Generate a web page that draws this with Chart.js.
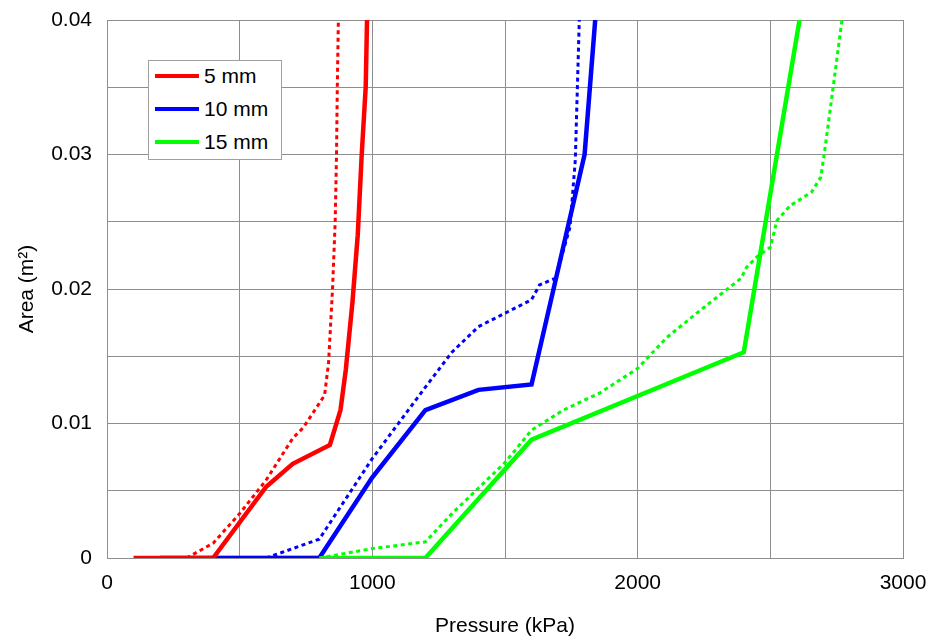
<!DOCTYPE html>
<html>
<head>
<meta charset="utf-8">
<script src="https://cdn.jsdelivr.net/npm/chart.js@4.4.1/dist/chart.umd.min.js"></script>
<style>
  html,body{margin:0;padding:0;background:#fff;}
  #wrap{position:relative;width:927px;height:640px;}
  #legend{position:absolute;left:148px;top:60px;width:134px;height:100px;border:1px solid #a0a0a0;background:#fff;
    font-family:"Liberation Sans",Arial,sans-serif;font-size:21px;color:#000;box-sizing:border-box;}
  .item{position:absolute;left:0;height:24px;}
  .item span.sw{position:absolute;left:6px;top:10px;width:44px;height:4px;}
  .item span.tx{position:absolute;left:55px;top:0;white-space:nowrap;line-height:24px;}
</style>
</head>
<body>
<div id="wrap">
  <canvas id="chart" width="927" height="640"></canvas>
  <div id="legend"></div>
</div>
<script>
/* values: pressure (kPa) and area (m2) */
const p5 = [100, 200, 300, 400, 600, 700, 840, 880, 900, 925, 945, 960, 975, 980];
const a5 = [0, 0, 0, 0, 0.0053, 0.0070, 0.0084, 0.0110, 0.0140, 0.0190, 0.0240, 0.0300, 0.0350, 0.0400];
const p5d = [300, 400, 500, 600, 700, 740, 800, 820, 835, 850, 860, 865, 868, 872];
const a5d = [0, 0.0011, 0.0033, 0.0058, 0.0089, 0.0097, 0.0115, 0.0121, 0.0145, 0.0200, 0.0250, 0.0300, 0.0350, 0.0400];

const p10 = [200, 400, 600, 800, 1000, 1200, 1400, 1600, 1800, 1840];
const a10 = [0, 0, 0, 0, 0.0060, 0.0110, 0.0125, 0.0129, 0.0300, 0.0400];
const p10d = [600, 800, 1000, 1200, 1300, 1400, 1500, 1600, 1630, 1690, 1745, 1765, 1775, 1780];
const a10d = [0, 0.0014, 0.0074, 0.0127, 0.0153, 0.0172, 0.0182, 0.0192, 0.0203, 0.0208, 0.0246, 0.0296, 0.0365, 0.0400];

const p15 = [400, 600, 800, 1000, 1200, 1600, 2400, 2610];
const a15 = [0, 0, 0, 0, 0, 0.0088, 0.0153, 0.0400];
const p15d = [800, 1000, 1200, 1300, 1400, 1500, 1600, 1720, 1860, 2000, 2110, 2235, 2390, 2410, 2450, 2500, 2525, 2575, 2655, 2690, 2705, 2730, 2750, 2770];
const a15d = [0, 0.0007, 0.0012, 0.0033, 0.0052, 0.0071, 0.0095, 0.0110, 0.0123, 0.0141, 0.0164, 0.0184, 0.0208, 0.0216, 0.0224, 0.0231, 0.0251, 0.0262, 0.0272, 0.0283, 0.0303, 0.0340, 0.0370, 0.0400];

const seriesNames = ['5 mm', '10 mm', '15 mm'];
const colors = ['#ff0000', '#0000ff', '#00ff00'];

const xTicks = [0, 1000, 2000, 3000];
const yTicks = [0, 0.01, 0.02, 0.03, 0.04];

const font = '"Liberation Sans", Arial, sans-serif';
const gridColor = '#8e8e8e';

function pts(xs, ys){
  return xs.map((x, i) => ({x: x, y: ys[i]}));
}

function solid(label, xs, ys, color){
  return {label: label, data: pts(xs, ys), borderColor: color, backgroundColor: color,
    borderWidth: 4.5, pointRadius: 0, tension: 0, showLegend: true};
}
function dotted(xs, ys, color){
  return {label: '', data: pts(xs, ys), borderColor: color, backgroundColor: color,
    borderWidth: 3, borderDash: [4, 3.5], pointRadius: 0, tension: 0, showLegend: false};
}

/* draw order: dotted under solid, green on top like the reference */
const datasets = [
  dotted(p5d, a5d, colors[0]),
  dotted(p10d, a10d, colors[1]),
  dotted(p15d, a15d, colors[2]),
  solid(seriesNames[0], p5, a5, colors[0]),
  solid(seriesNames[1], p10, a10, colors[1]),
  solid(seriesNames[2], p15, a15, colors[2])
];

const chart = new Chart(document.getElementById('chart').getContext('2d'), {
  type: 'line',
  data: {datasets: datasets},
  options: {
    responsive: false,
    animation: false,
    layout: {padding: {left: 0, right: 24, top: 20, bottom: 0}},
    plugins: {legend: {display: false}, tooltip: {enabled: false}},
    scales: {
      x: {
        type: 'linear', min: 0, max: 3000,
        afterFit: s => { s.height = 82; s.paddingLeft = 0; s.paddingRight = 0; },
        grid: {color: gridColor, drawTicks: false},
        border: {color: gridColor},
        ticks: {
          stepSize: 500, padding: 13, color: '#000', maxRotation: 0,
          font: {family: font, size: 21},
          callback: v => xTicks.includes(v) ? String(v) : ''
        },
        title: {display: true, text: 'Pressure (kPa)', color: '#000',
          font: {family: font, size: 21}, padding: {top: 0, bottom: 1}}
      },
      y: {
        type: 'linear', min: 0, max: 0.04,
        afterFit: s => { s.width = 107; s.paddingTop = 0; s.paddingBottom = 0; },
        grid: {color: gridColor, drawTicks: false},
        border: {color: gridColor},
        ticks: {
          stepSize: 0.005, padding: 15, color: '#000',
          font: {family: font, size: 21},
          callback: v => {
            const hit = yTicks.find(t => Math.abs(t - v) < 1e-9);
            return hit === undefined ? '' : (hit === 0 ? '0' : hit.toFixed(2));
          }
        },
        title: {display: true, text: 'Area (m\u00B2)', color: '#000',
          font: {family: font, size: 21}, padding: {top: 15, bottom: 0}}
      }
    }
  }
});

/* legend only lists the solid series */
const legend = document.getElementById('legend');
chart.data.datasets.filter(d => d.showLegend).forEach((d, i) => {
  const row = document.createElement('div');
  row.className = 'item';
  row.style.top = (3 + i * 33) + 'px';
  row.innerHTML = '<span class="sw" style="background:' + d.borderColor + '"></span><span class="tx">' + d.label + '</span>';
  legend.appendChild(row);
});
</script>
</body>
</html>
